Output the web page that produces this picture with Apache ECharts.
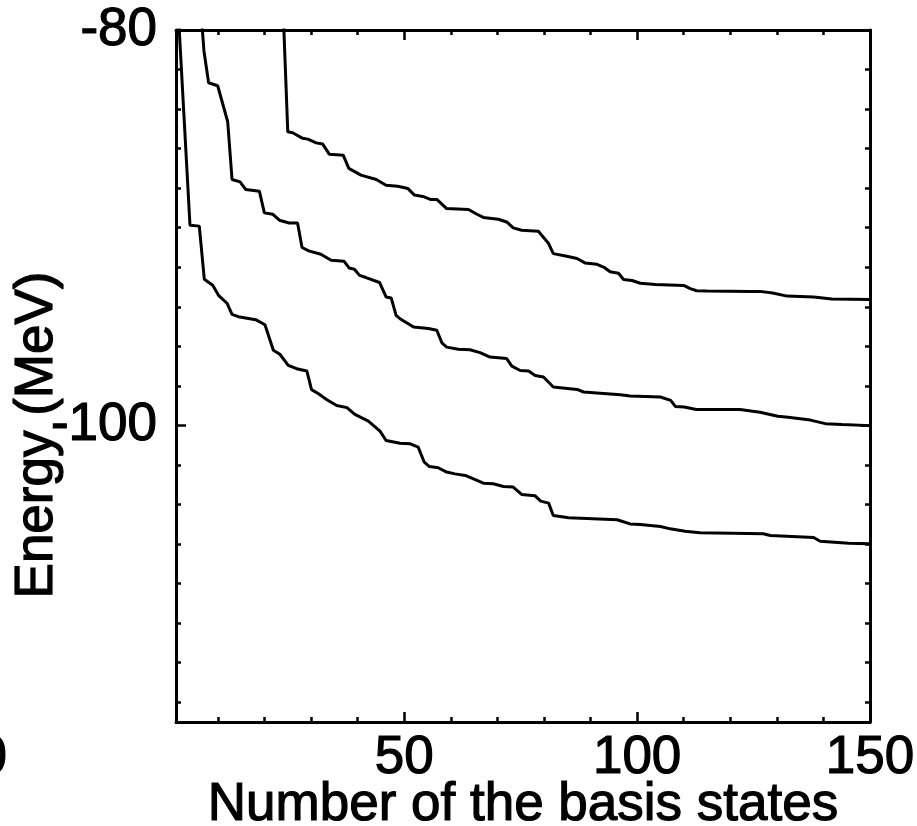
<!DOCTYPE html>
<html><head><meta charset="utf-8">
<script src="https://cdn.jsdelivr.net/npm/echarts@6/dist/echarts.min.js"></script>
<style>html,body{margin:0;padding:0;background:#fff}#c{width:917px;height:826px}</style>
</head><body><div id="c"></div>
<script>
// Lowest state
const lowX = [1, 4, 6, 7.08, 8.88, 10.13, 11.95, 13.03, 14.4, 18.1, 20.1, 21.9, 23.3, 25.1, 26.9, 29.1, 30.1, 31.6, 33.4, 35.5, 37.7, 39.4, 42.3, 44.8, 46.1, 49.1, 51.3, 53.0, 54.3, 55.4, 57.3, 59.1, 60.9, 63.1, 67.0, 69.1, 71.3, 73.4, 75.2, 78.1, 79.3, 81.0, 82.0, 85.3, 95.7, 98.5, 100.7, 105, 107.1, 110.3, 113.5, 127.1, 128.6, 137.9, 139.3, 145.4, 150];
const lowY = [-77.0, -89.87, -89.92, -92.61, -92.91, -93.42, -93.82, -94.38, -94.5, -94.65, -94.91, -96.2, -96.4, -96.96, -97.13, -97.25, -98.19, -98.4, -98.7, -98.99, -99.1, -99.44, -99.78, -100.29, -100.76, -100.9, -100.93, -101.1, -101.86, -102.08, -102.14, -102.36, -102.45, -102.53, -102.92, -102.95, -103.09, -103.12, -103.49, -103.56, -103.83, -103.93, -104.56, -104.67, -104.77, -104.98, -105.01, -105.11, -105.23, -105.35, -105.43, -105.48, -105.57, -105.67, -105.86, -105.96, -105.99];
// Second state
const midX = [6, 7, 8, 9.95, 12.1, 13.03, 14.75, 16.0, 18.9, 19.97, 21.8, 23.2, 25.3, 27.1, 28.06, 29.5, 32.1, 34.3, 37.1, 38.2, 39.3, 40.4, 41.8, 44.7, 46.1, 47.2, 48.25, 49.1, 52.0, 55.2, 57.0, 58.1, 59.1, 61.6, 64.1, 66.3, 68.4, 72.0, 73.1, 74.9, 76.7, 78.1, 79.9, 82.0, 87.1, 88.5, 96.4, 98.5, 105.0, 107.2, 108.2, 110.1, 112.7, 122.1, 126.4, 130.2, 132.4, 137.2, 140.4, 144.0, 150];
const midY = [-77.9, -81.06, -82.67, -82.82, -84.64, -87.56, -87.68, -88.07, -88.15, -89.25, -89.32, -89.62, -89.76, -89.76, -91.0, -91.17, -91.34, -91.65, -91.7, -92.04, -92.1, -92.41, -92.52, -92.77, -93.5, -93.55, -94.43, -94.6, -95.02, -95.1, -95.19, -95.83, -96.04, -96.15, -96.17, -96.32, -96.54, -96.62, -97.0, -97.22, -97.25, -97.47, -97.55, -98.06, -98.18, -98.31, -98.45, -98.51, -98.56, -98.73, -99.04, -99.07, -99.19, -99.2, -99.33, -99.54, -99.59, -99.73, -99.91, -99.95, -100.01];
// Third state
const topX = [24, 25.0, 26.06, 28.2, 29.3, 31.1, 32.5, 33.9, 36.9, 38.1, 40.7, 44.0, 46.1, 48.6, 50.8, 52.2, 54.0, 55.6, 57.0, 59.1, 63.8, 65.6, 67.0, 70.2, 72.0, 73.4, 75.2, 78.8, 81.0, 82.0, 84.9, 87.1, 88.8, 91.4, 92.9, 94.2, 96.0, 97.1, 98.9, 100.7, 103.9, 110.0, 111.4, 112.8, 115.0, 124.3, 126.4, 129.1, 132.2, 137.9, 141.8, 150];
const topY = [-79.0, -85.15, -85.2, -85.48, -85.52, -85.71, -85.77, -86.28, -86.33, -87.0, -87.34, -87.56, -87.85, -87.9, -88.02, -88.35, -88.42, -88.57, -88.57, -89.03, -89.08, -89.32, -89.48, -89.57, -89.71, -90.01, -90.13, -90.18, -90.8, -91.31, -91.44, -91.56, -91.78, -91.85, -92.0, -92.23, -92.3, -92.62, -92.67, -92.81, -92.87, -92.92, -93.08, -93.19, -93.2, -93.22, -93.22, -93.3, -93.46, -93.5, -93.6, -93.63];

const xMajorTicks = [50, 100, 150];
const xMinorTicks = [10, 20, 30, 40, 60, 70, 80, 90, 110, 120, 130, 140];
const yMajorTicks = [-100, -80];
const yMinorTicks = [-114, -112, -110, -108, -106, -104, -102, -98, -96, -94, -92, -90, -88, -86, -84, -82];
const xName = 'Number of the basis states';
const yName = 'Energy (MeV)';

const FONT = '"Liberation Sans", Arial, Helvetica, sans-serif';
const FS = 53;
const XMIN = 1, XMAX = 150, YMIN = -115, YMAX = -80;
const lineStyle = {color: '#000', width: 3};
const textThick = {textBorderColor: '#000', textBorderWidth: 1.2};

function zip(xs, ys) { return xs.map((x, i) => [x, ys[i]]); }

function xAx(pos, ticks, len, showLine, labels) {
  return {
    type: 'value', position: pos, min: XMIN, max: XMAX,
    axisLine: {show: showLine, onZero: false, lineStyle: lineStyle},
    axisTick: {show: true, inside: true, length: len, customValues: ticks, lineStyle: {color: '#000', width: 2.5}},
    axisLabel: labels ? Object.assign({show: true, customValues: ticks, fontSize: FS, fontFamily: FONT, color: '#000', margin: 10}, textThick) : {show: false},
    splitLine: {show: false}
  };
}
function yAx(pos, ticks, len, showLine, labels) {
  return {
    type: 'value', position: pos, min: YMIN, max: YMAX,
    axisLine: {show: showLine, onZero: false, lineStyle: lineStyle},
    axisTick: {show: true, inside: true, length: len, customValues: ticks, lineStyle: {color: '#000', width: 2.5}},
    axisLabel: labels ? Object.assign({show: true, customValues: ticks, fontSize: FS, fontFamily: FONT, color: '#000', margin: 19}, textThick) : {show: false},
    splitLine: {show: false}
  };
}

const xAxes = [
  Object.assign(xAx('bottom', xMajorTicks, 10, true, true), {name: xName, nameLocation: 'middle', nameGap: 57, nameMoveOverlap: false,
    nameTextStyle: Object.assign({fontSize: FS, fontFamily: FONT, color: '#000'}, textThick)}),
  xAx('bottom', xMinorTicks, 5, false, false),
  xAx('top', xMajorTicks, 10, true, false),
  xAx('top', xMinorTicks, 5, false, false)
];
const yAxes = [
  yAx('left', yMajorTicks, 10, true, true),
  yAx('left', yMinorTicks, 5, false, false),
  yAx('right', yMajorTicks, 10, true, false),
  yAx('right', yMinorTicks, 5, false, false)
];

function lineSeries(xs, ys) {
  return {type: 'line', xAxisIndex: 0, yAxisIndex: 0, data: zip(xs, ys), showSymbol: false, symbol: 'none',
    lineStyle: {color: '#000', width: 3}, clip: true, silent: true};
}

const chart = echarts.init(document.getElementById('c'), null, {renderer: 'canvas'});
chart.setOption({
  animation: false,
  backgroundColor: '#fff',
  grid: {left: 176, right: 47, top: 30, bottom: 104, containLabel: false, outerBoundsMode: 'none'},
  xAxis: xAxes,
  yAxis: yAxes,
  series: [lineSeries(lowX, lowY), lineSeries(midX, midY), lineSeries(topX, topY)],
  graphic: [
    {type: 'text', x: 37, y: 435, rotation: Math.PI / 2, silent: true,
     style: {text: yName, font: FS + 'px ' + FONT, fill: '#000', textAlign: 'center', textVerticalAlign: 'middle', stroke: '#000', lineWidth: 1.2}},
    {type: 'text', x: 7, y: 732, silent: true,
     style: {text: '0', font: FS + 'px ' + FONT, fill: '#000', textAlign: 'right', textVerticalAlign: 'top', stroke: '#000', lineWidth: 1.2}}
  ]
});
</script>
</body></html>
